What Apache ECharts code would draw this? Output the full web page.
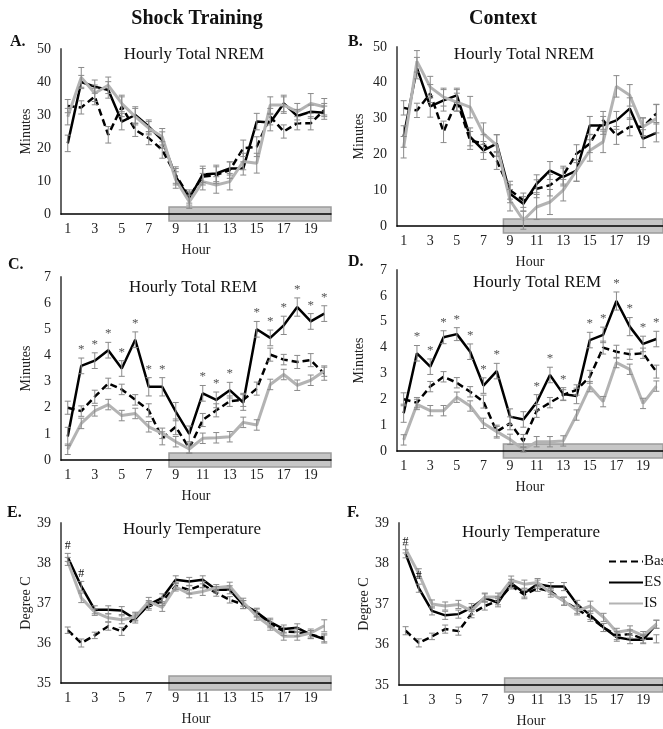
<!DOCTYPE html>
<html>
<head>
<meta charset="utf-8">
<script src="https://cdn.jsdelivr.net/npm/echarts@6/dist/echarts.min.js"></script>
<style>
html,body{margin:0;padding:0;background:#fff;}
#chart{width:663px;height:729px;}
</style>
</head>
<body>
<div id="chart"></div>
<script>
var hours = ['1','2','3','4','5','6','7','8','9','10','11','12','13','14','15','16','17','18','19','20'];

// A. shock training, hourly total NREM (minutes)
var shockNremBase = [32.7,32.3,35.6,24,32.5,25.5,23,19.4,11.8,5.3,11.3,11.8,13.3,19.9,20.4,29.5,25,27.5,27.5,31.5];
var shockNremES   = [21.4,40,38.6,37.6,28,30,26.5,22.4,11.3,4.7,12,12.3,13.8,13.8,28,27.7,33.5,29.7,31,30.7];
var shockNremIS   = [29.5,41.4,36.6,39,33.5,29.5,26,23.4,10.3,3.7,9.8,8.8,9.8,15.9,15.4,33,33,31,33.5,32.5];
var shockNremBaseErr = [2,2,2.5,2.5,3,2,2,2.5,2.5,2,2.5,2.5,2.5,2.5,3,2.5,2,2,2,2];
var shockNremESErr   = [2.5,2,2,2.5,2.5,2.5,2,2.5,2.5,2,2.5,2.5,2,2,2.5,2.5,2.5,2,2,2];
var shockNremISErr   = [2.5,3,2.5,2.5,2.5,2.5,2,2.5,2.5,2,2.5,2.5,2.5,2.5,3,2.5,2.5,2.5,3,2.5];

// B. context, hourly total NREM
var ctxNremBase = [33,32.3,37,26.3,35.1,23.9,23,18.3,10,7.2,10.4,11.4,14.2,20.2,23,29.5,25.3,27.7,27.7,31.4];
var ctxNremES   = [25,44.1,33.4,35.1,36.5,24.9,21.1,23,9,6.2,11.8,15.5,13.7,15.5,28.1,28.1,29.5,32.8,24.4,26];
var ctxNremIS   = [22,46,38.8,36,34.6,33.2,25.8,22.5,7.2,1.6,5.3,6.7,10,15.5,21.1,23.5,39,36.5,27.7,30];
var ctxNremBaseErr = [2,2,2.5,3,3,2.5,2.5,2.5,2.5,2,2.5,3,2.5,2.5,2.5,2.5,2.5,2.5,2.5,2.5];
var ctxNremESErr   = [3,3,3,3,2,2.5,2.5,2.5,2.5,2,2.5,2.5,2.5,3,2.5,2.5,2.5,3,2.5,2.5];
var ctxNremISErr   = [3,3,3,2.5,2.5,3,3,3,3,2.5,3.5,3.5,3,3,3,3,3,3,2.5,4];

// C. shock training, hourly total REM
var shockRemBase = [2.0,1.87,2.42,2.93,2.7,2.3,1.9,0.83,1.27,0.45,1.53,1.9,2.25,2.3,2.73,4.03,3.84,3.75,3.82,3.3];
var shockRemES   = [0.9,3.6,3.8,4.2,3.5,4.6,2.8,2.8,1.85,1.0,2.55,2.3,2.67,2.2,5.0,4.67,5.15,5.85,5.3,5.6];
var shockRemIS   = [0.41,1.4,1.88,2.12,1.7,1.78,1.27,1.02,0.7,0.42,0.83,0.85,0.89,1.44,1.34,2.89,3.27,2.86,3.05,3.4];
var shockRemBaseErr = [0.25,0.2,0.25,0.2,0.2,0.2,0.25,0.25,0.3,0.2,0.25,0.25,0.2,0.25,0.25,0.25,0.2,0.25,0.25,0.25];
var shockRemESErr   = [0.35,0.3,0.3,0.3,0.3,0.3,0.35,0.35,0.35,0.3,0.3,0.3,0.3,0.3,0.3,0.3,0.35,0.35,0.3,0.3];
var shockRemISErr   = [0.2,0.2,0.2,0.2,0.2,0.2,0.2,0.2,0.2,0.15,0.2,0.2,0.2,0.2,0.2,0.2,0.2,0.2,0.2,0.2];
var shockRemSig = [2,3,4,5,6,7,8,11,12,13,15,16,17,18,19,20];

// D. context, hourly total REM
var ctxRemBase = [2.0,1.87,2.49,2.87,2.64,2.29,1.91,0.75,1.07,0.39,1.55,1.87,2.17,2.36,2.87,4.0,3.84,3.74,3.78,3.07];
var ctxRemES   = [1.46,3.78,3.26,4.4,4.52,3.84,2.53,3.09,1.33,1.22,1.88,2.94,2.2,2.13,4.29,4.49,5.8,4.81,4.14,4.33];
var ctxRemIS   = [0.43,1.8,1.56,1.56,2.08,1.74,1.07,0.75,0.45,0.06,0.36,0.36,0.39,1.39,2.49,1.91,3.42,3.16,1.84,2.51];
var ctxRemBaseErr = [0.25,0.2,0.2,0.2,0.2,0.2,0.25,0.25,0.25,0.25,0.25,0.2,0.2,0.2,0.25,0.25,0.25,0.2,0.2,0.25];
var ctxRemESErr   = [0.35,0.3,0.3,0.25,0.25,0.3,0.3,0.3,0.3,0.3,0.3,0.3,0.25,0.3,0.3,0.3,0.35,0.35,0.3,0.3];
var ctxRemISErr   = [0.2,0.2,0.2,0.2,0.2,0.2,0.2,0.2,0.2,0.1,0.2,0.2,0.2,0.2,0.2,0.2,0.2,0.2,0.2,0.2];
var ctxRemSig = [2,3,4,5,6,7,8,11,12,13,15,16,17,18,19,20];

// E. shock training, hourly temperature (degree C)
var shockTempBase = [36.32,36.0,36.19,36.42,36.29,36.67,36.92,37.04,37.42,37.33,37.46,37.25,37.08,36.96,36.75,36.48,36.29,36.27,36.21,36.13];
var shockTempES   = [38.14,37.42,36.83,36.83,36.81,36.6,36.96,37.13,37.58,37.54,37.58,37.33,37.33,36.96,36.77,36.52,36.35,36.38,36.21,36.1];
var shockTempIS   = [38.04,37.13,36.77,36.63,36.58,36.65,37.04,36.89,37.4,37.23,37.29,37.38,37.42,37.02,36.67,36.42,36.17,36.17,36.25,36.43];
var shockTempBaseErr = [0.08,0.1,0.08,0.1,0.1,0.1,0.1,0.1,0.08,0.1,0.08,0.08,0.08,0.1,0.1,0.1,0.1,0.1,0.1,0.1];
var shockTempESErr   = [0.1,0.12,0.1,0.1,0.1,0.1,0.1,0.1,0.1,0.1,0.1,0.08,0.1,0.1,0.1,0.1,0.1,0.1,0.1,0.1];
var shockTempISErr   = [0.1,0.12,0.08,0.1,0.1,0.1,0.1,0.1,0.1,0.1,0.1,0.08,0.1,0.1,0.1,0.1,0.1,0.1,0.1,0.15];
var shockTempSig = [1,2];

// F. context, hourly temperature
var ctxTempBase = [36.34,36.04,36.2,36.38,36.33,36.76,36.95,37.08,37.45,37.23,37.39,37.31,37.07,36.87,36.67,36.42,36.22,36.26,36.14,36.14];
var ctxTempES   = [38.24,37.39,36.83,36.72,36.75,36.91,37.15,37.03,37.51,37.27,37.49,37.43,37.43,36.99,36.72,36.42,36.18,36.12,36.12,36.5];
var ctxTempIS   = [38.36,37.75,37.0,36.95,36.99,36.83,37.17,37.17,37.59,37.49,37.53,37.27,37.07,36.83,36.95,36.67,36.3,36.36,36.22,36.5];
var ctxTempBaseErr = [0.1,0.1,0.08,0.1,0.1,0.1,0.1,0.1,0.08,0.1,0.08,0.08,0.1,0.1,0.1,0.1,0.1,0.1,0.1,0.1];
var ctxTempESErr   = [0.1,0.1,0.1,0.1,0.1,0.1,0.1,0.1,0.1,0.1,0.1,0.1,0.1,0.1,0.1,0.1,0.1,0.1,0.1,0.1];
var ctxTempISErr   = [0.1,0.12,0.1,0.1,0.1,0.1,0.1,0.1,0.1,0.1,0.1,0.1,0.1,0.1,0.12,0.1,0.1,0.1,0.1,0.1];
var ctxTempSig = [1,2];

var darkStart = 9, darkEnd = 20; // dark phase hours (grey bar)

var serif = '"Liberation Serif", "Times New Roman", serif';

var panels = [
  {left:61, top:49, height:165, min:0, max:50, step:10, name:'Minutes', gap:28,
   base:shockNremBase, es:shockNremES, is:shockNremIS, baseErr:shockNremBaseErr, esErr:shockNremESErr, isErr:shockNremISErr},
  {left:397, top:47, height:179, min:0, max:50, step:10, name:'Minutes', gap:31,
   base:ctxNremBase, es:ctxNremES, is:ctxNremIS, baseErr:ctxNremBaseErr, esErr:ctxNremESErr, isErr:ctxNremISErr},
  {left:61, top:277, height:183, min:0, max:7, step:1, name:'Minutes', gap:28,
   base:shockRemBase, es:shockRemES, is:shockRemIS, baseErr:shockRemBaseErr, esErr:shockRemESErr, isErr:shockRemISErr, sig:shockRemSig, mark:'*'},
  {left:397, top:270, height:181, min:0, max:7, step:1, name:'Minutes', gap:31,
   base:ctxRemBase, es:ctxRemES, is:ctxRemIS, baseErr:ctxRemBaseErr, esErr:ctxRemESErr, isErr:ctxRemISErr, sig:ctxRemSig, mark:'*'},
  {left:61, top:523, height:160, min:35, max:39, step:1, name:'Degree C', gap:28,
   base:shockTempBase, es:shockTempES, is:shockTempIS, baseErr:shockTempBaseErr, esErr:shockTempESErr, isErr:shockTempISErr, sig:shockTempSig, mark:'#'},
  {left:399, top:523, height:166, min:35, max:39, step:1, name:'Degree C', gap:28,
   base:ctxTempBase, es:ctxTempES, is:ctxTempIS, baseErr:ctxTempBaseErr, esErr:ctxTempESErr, isErr:ctxTempISErr, sig:ctxTempSig, mark:'#'}
];

function errBars(i, vals, errs) {
  return {
    type:'custom', xAxisIndex:2*i, yAxisIndex:i, z:4, silent:true,
    encode:{x:0, y:[1,2]},
    data: vals.map(function(v,k){ return [k, v-errs[k], v+errs[k]]; }),
    renderItem: function(params, api){
      var lo = api.coord([api.value(0), api.value(1)]);
      var hi = api.coord([api.value(0), api.value(2)]);
      var c = 3, st = {stroke:'#8a8a8a', lineWidth:1};
      return {type:'group', children:[
        {type:'line', shape:{x1:lo[0], y1:lo[1], x2:hi[0], y2:hi[1]}, style:st},
        {type:'line', shape:{x1:lo[0]-c, y1:lo[1], x2:lo[0]+c, y2:lo[1]}, style:st},
        {type:'line', shape:{x1:hi[0]-c, y1:hi[1], x2:hi[0]+c, y2:hi[1]}, style:st}
      ]};
    }
  };
}

var grid = [], xAxis = [], yAxis = [], series = [];
panels.forEach(function(p, i){
  grid.push({left:p.left, top:p.top, width:270, height:p.height});
  var tickStyle = {color:'#000', width:1.2};
  xAxis.push({
    gridIndex:i, type:'category', data:hours, position:'bottom', z:1,
    axisLine:{onZero:false, lineStyle:{color:'#000', width:1.5}},
    axisTick:{interval:0, length:4, lineStyle:tickStyle},
    axisLabel:{interval:1, margin:8, fontFamily:serif, fontSize:14, color:'#222'},
    name:'Hour', nameLocation:'middle', nameGap:29,
    nameTextStyle:{fontFamily:serif, fontSize:14, color:'#222'}
  });
  xAxis.push({
    gridIndex:i, type:'category', data:hours, position:'bottom', z:1,
    axisLine:{show:false},
    axisTick:{inside:true, interval:0, length:4, lineStyle:tickStyle},
    axisLabel:{show:false}
  });
  yAxis.push({
    gridIndex:i, type:'value', min:p.min, max:p.max, interval:p.step,
    axisLine:{show:true, lineStyle:{color:'#666', width:2}},
    axisTick:{show:false}, splitLine:{show:false},
    axisLabel:{fontFamily:serif, fontSize:14, color:'#222', margin:10},
    name:p.name, nameLocation:'middle', nameGap:p.gap,
    nameTextStyle:{fontFamily:serif, fontSize:14, color:'#222'}
  });
  // grey dark-phase bar on the hour axis
  series.push({
    type:'custom', xAxisIndex:2*i, yAxisIndex:i, z:0, silent:true,
    encode:{x:[0,1], y:2},
    data:[[darkStart-1, darkEnd-1, p.min]],
    renderItem:function(params, api){
      var a = api.coord([api.value(0), api.value(2)]);
      var b = api.coord([api.value(1), api.value(2)]);
      var bw = api.size([1, 0])[0];
      return {type:'rect', shape:{x:a[0]-bw/2, y:a[1]-7, width:b[0]-a[0]+bw, height:14},
        style:{fill:'#c6c6c6', stroke:'#9c9c9c', lineWidth:1.5}};
    }
  });
  series.push({name:'Baseline', type:'line', xAxisIndex:2*i, yAxisIndex:i, data:p.base, symbol:'none', z:3,
    itemStyle:{color:'#000'}, lineStyle:{color:'#000', width:2.5, type:[7,4]}});
  series.push({name:'ES', type:'line', xAxisIndex:2*i, yAxisIndex:i, data:p.es, symbol:'none', z:3,
    itemStyle:{color:'#000'}, lineStyle:{color:'#000', width:2.5}});
  series.push({name:'IS', type:'line', xAxisIndex:2*i, yAxisIndex:i, data:p.is, symbol:'none', z:3,
    itemStyle:{color:'#b3b3b3'}, lineStyle:{color:'#b3b3b3', width:3}});
  series.push(errBars(i, p.base, p.baseErr));
  series.push(errBars(i, p.es, p.esErr));
  series.push(errBars(i, p.is, p.isErr));
  if (p.sig) {
    var mk = p.mark;
    series.push({
      type:'custom', xAxisIndex:2*i, yAxisIndex:i, z:5, silent:true,
      encode:{x:0, y:1},
      data:p.sig.map(function(h){ return [h-1, p.es[h-1] + p.esErr[h-1]]; }),
      renderItem:function(params, api){
        var pt = api.coord([api.value(0), api.value(1)]);
        return {type:'text', x:pt[0], y:pt[1]-2,
          style:{text:mk, font:(mk === '*' ? '13px ' : '12px ') + serif, fill:mk === '*' ? '#555' : '#111',
            align:'center', verticalAlign:'bottom'}};
      }
    });
  }
});

function txt(t, x, y, font, align) {
  return {type:'text', x:x, y:y, silent:true,
    style:{text:t, font:font, fill:'#111', align:align || 'center', verticalAlign:'middle'}};
}

var option = {
  animation:false,
  backgroundColor:'#fff',
  grid:grid, xAxis:xAxis, yAxis:yAxis, series:series,
  legend:{
    data:['Baseline','ES','IS'], orient:'vertical', left:608, top:554, padding:0,
    itemWidth:34, itemHeight:14, itemGap:6, selectedMode:false,
    itemStyle:{opacity:0},
    textStyle:{fontFamily:serif, fontSize:15, color:'#111', padding:[0,0,0,-4]}
  },
  graphic:[
    txt('Shock Training', 197, 19, 'bold 20px ' + serif),
    txt('Context', 503, 19, 'bold 20px ' + serif),
    txt('A.', 10, 42, 'bold 16px ' + serif, 'left'),
    txt('B.', 348, 42, 'bold 16px ' + serif, 'left'),
    txt('C.', 8, 265, 'bold 16px ' + serif, 'left'),
    txt('D.', 348, 262, 'bold 16px ' + serif, 'left'),
    txt('E.', 7, 513, 'bold 16px ' + serif, 'left'),
    txt('F.', 347, 513, 'bold 16px ' + serif, 'left'),
    txt('Hourly Total NREM', 194, 55, '17px ' + serif),
    txt('Hourly Total NREM', 524, 55, '17px ' + serif),
    txt('Hourly Total REM', 193, 288, '17px ' + serif),
    txt('Hourly Total REM', 537, 283, '17px ' + serif),
    txt('Hourly Temperature', 192, 530, '17px ' + serif),
    txt('Hourly Temperature', 531, 533, '17px ' + serif)
  ]
};

var chart = echarts.init(document.getElementById('chart'));
chart.setOption(option);
</script>
</body>
</html>
